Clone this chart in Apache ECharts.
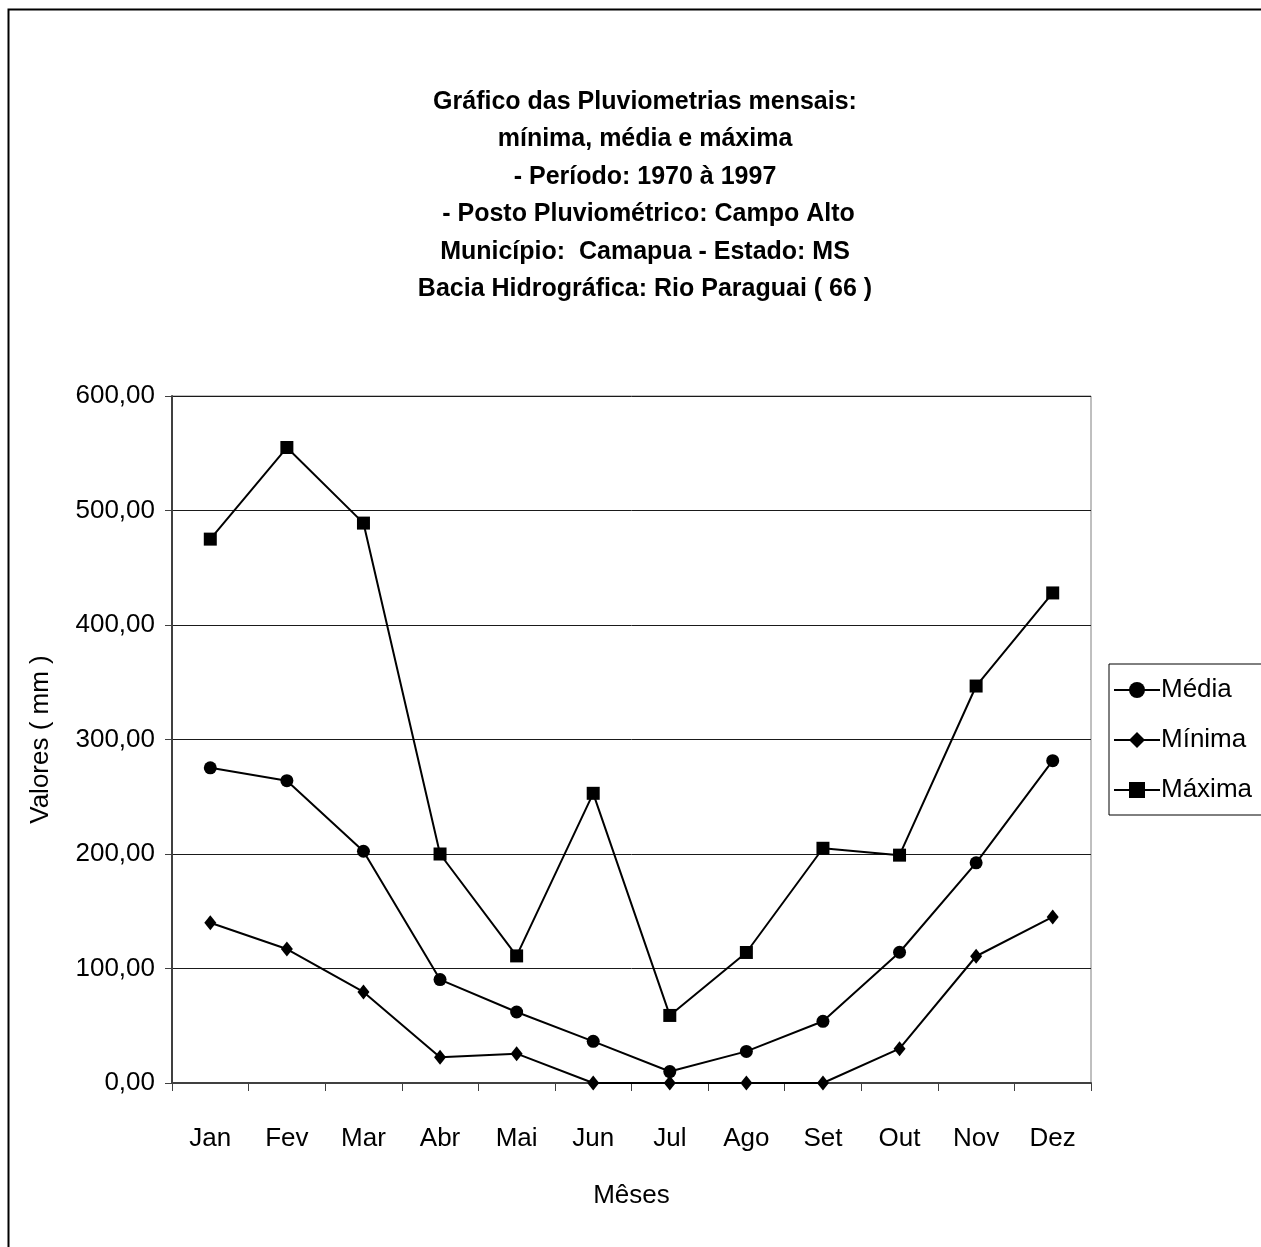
<!DOCTYPE html>
<html>
<head>
<meta charset="utf-8">
<script src="https://cdn.jsdelivr.net/npm/echarts@6/dist/echarts.min.js"></script>
<style>
  html, body { margin: 0; padding: 0; background: #fff; }
  #chart { width: 1261px; height: 1247px; }
</style>
</head>
<body>
<div id="chart"></div>
<script>
// Monthly rainfall, Campo Alto station (1970–1997), in mm
const months = ['Jan', 'Fev', 'Mar', 'Abr', 'Mai', 'Jun', 'Jul', 'Ago', 'Set', 'Out', 'Nov', 'Dez'];
const media  = [275.3, 264.0, 202.4, 90.3, 62.0, 36.4, 10.0, 27.6, 53.9, 114.2, 192.3, 281.5];
const minima = [139.9, 117.0, 79.5, 22.4, 25.6, 0, 0, 0, 0, 30.0, 110.7, 145.0];
const maxima = [475.0, 555.0, 489.0, 200.0, 111.0, 253.0, 59.0, 114.0, 205.0, 199.0, 346.7, 428.0];
const yTicks = [0, 100, 200, 300, 400, 500, 600];

const titleLines = [
  'Gráfico das Pluviometrias mensais:',
  'mínima, média e máxima',
  '- Período: 1970 à 1997',
  ' - Posto Pluviométrico: Campo Alto',
  'Município:  Camapua - Estado: MS',
  'Bacia Hidrográfica: Rio Paraguai ( 66 )'
];

const FONT = '"Liberation Sans", Arial, sans-serif';

const chart = echarts.init(document.getElementById('chart'), null, { renderer: 'canvas' });

const seriesStyle = (name, data, symbol, size) => ({
  name: name,
  type: 'line',
  data: data,
  symbol: symbol,
  symbolSize: size,
  showAllSymbol: true,
  lineStyle: { color: '#000', width: 2 },
  itemStyle: { color: '#000', borderWidth: 0 },
  emphasis: { disabled: true },
  animation: false
});

chart.setOption({
  animation: false,
  backgroundColor: '#fff',
  title: {
    text: titleLines.join('\n'),
    left: 640,
    top: 78,
    textAlign: 'center',
    textStyle: {
      fontFamily: FONT,
      fontWeight: 'bold',
      fontSize: 25,
      lineHeight: 37.5,
      color: '#000'
    }
  },
  graphic: [
    {
      type: 'rect',
      shape: { x: 8.5, y: 9.5, width: 1400, height: 1400 },
      style: { fill: 'none', stroke: '#000', lineWidth: 2 },
      silent: true
    }
  ],
  legend: {
    left: 1109,
    top: 664,
    orient: 'vertical',
    itemGap: 24,
    itemWidth: 46,
    itemHeight: 20,
    itemStyle: { borderWidth: 0 },
    lineStyle: { width: 2, color: '#000' },
    padding: [13, 30, 12, 4],
    borderColor: '#000',
    borderWidth: 1,
    backgroundColor: '#fff',
    textStyle: { fontFamily: FONT, fontSize: 26, color: '#000', padding: [0, 0, 0, -4] },
    data: ['Média', 'Mínima', 'Máxima'],
    selectedMode: false
  },
  grid: {
    left: 172,
    top: 396,
    right: 170,
    bottom: 164,
    show: true,
    borderColor: '#808080',
    borderWidth: 1,
    containLabel: false
  },
  xAxis: {
    type: 'category',
    data: months,
    boundaryGap: true,
    name: 'Mêses',
    nameLocation: 'middle',
    nameGap: 100,
    nameTextStyle: { fontFamily: FONT, fontSize: 26, color: '#000' },
    axisLine: { lineStyle: { color: '#404040', width: 2 } },
    axisTick: { show: true, length: 8, alignWithLabel: false, lineStyle: { color: '#404040', width: 1 } },
    axisLabel: { fontFamily: FONT, fontSize: 26, color: '#000', margin: 43 },
    splitLine: { show: false }
  },
  yAxis: {
    type: 'value',
    min: 0,
    max: 600,
    interval: 100,
    name: 'Valores ( mm )',
    nameLocation: 'middle',
    nameGap: 118,
    nameRotate: 90,
    nameTextStyle: { fontFamily: FONT, fontSize: 26, color: '#000' },
    axisLine: { show: true, lineStyle: { color: '#404040', width: 2 } },
    axisTick: { show: true, inside: false, length: 7, lineStyle: { color: '#404040', width: 1 } },
    axisLabel: {
      fontFamily: FONT,
      fontSize: 26,
      color: '#000',
      margin: 17,
      formatter: v => yTicks.includes(v) ? v.toFixed(2).replace('.', ',') : ''
    },
    splitLine: { show: true, lineStyle: { color: '#1a1a1a', width: 1 } }
  },
  series: [
    seriesStyle('Média', media, 'circle', 13),
    seriesStyle('Mínima', minima, 'diamond', [12, 15]),
    seriesStyle('Máxima', maxima, 'rect', 13)
  ]
});
</script>
</body>
</html>
